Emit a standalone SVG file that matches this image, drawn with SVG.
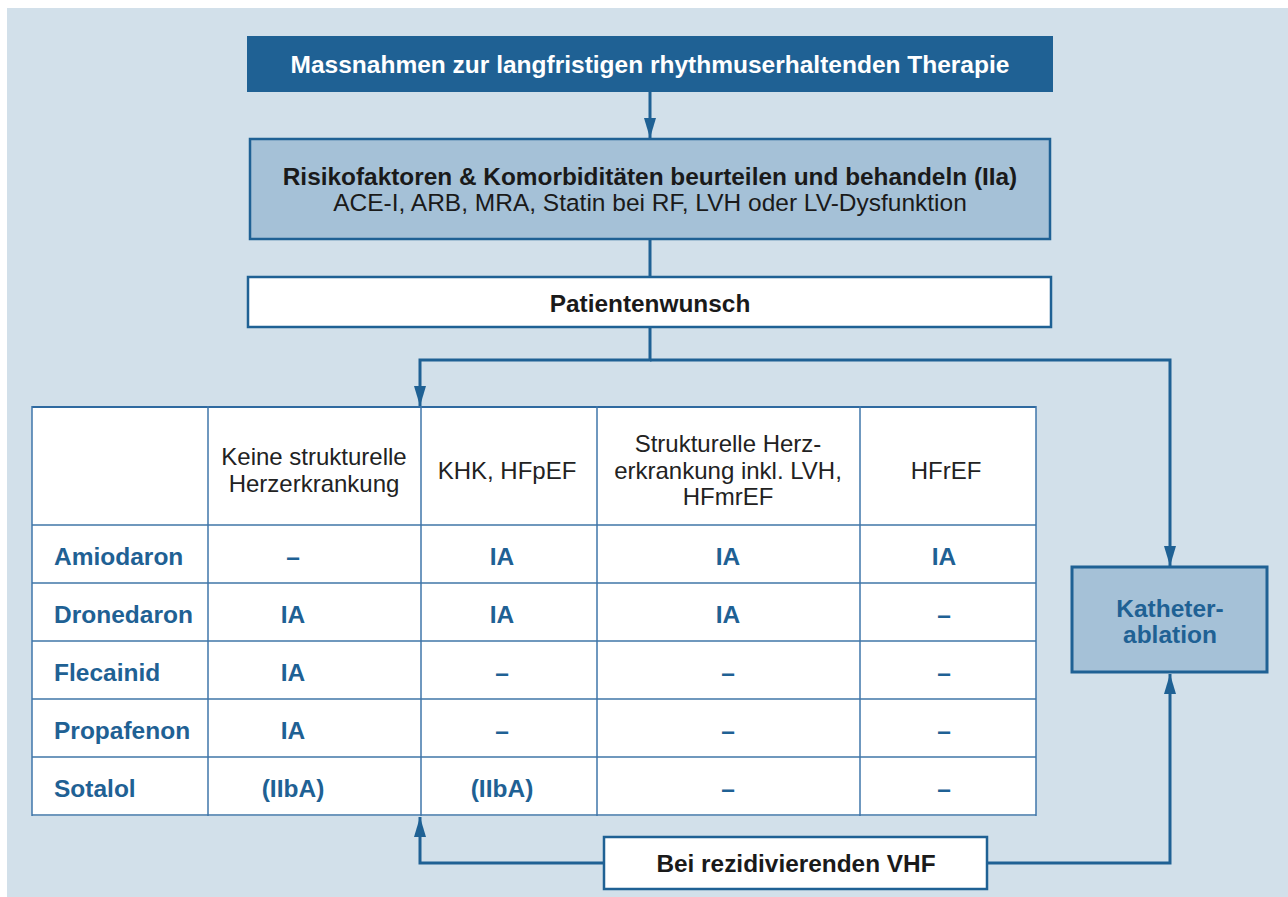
<svg xmlns="http://www.w3.org/2000/svg" width="1288" height="897" viewBox="0 0 1288 897">
<defs>
<marker id="arr" viewBox="0 0 20 12" refX="20" refY="6" markerWidth="20" markerHeight="12" markerUnits="userSpaceOnUse" orient="auto">
<path d="M0,0 L20,6 L0,12 Z" fill="#1f6194"/>
</marker>
<style>
.t{font-family:"Liberation Sans",Arial,sans-serif;}
.wb{fill:#ffffff;font-weight:bold;font-size:24.5px;}
.kb{fill:#1a1a1a;font-weight:bold;font-size:24.4px;}
.kr{fill:#1a1a1a;font-size:24.5px;}
.hd{fill:#222222;font-size:24px;}
.bl{fill:#1f6194;font-weight:bold;font-size:24.5px;}
.conn{fill:none;stroke:#1f6194;stroke-width:3;}
.row{stroke:#6f98bd;stroke-width:2;}
.col{stroke:#3f76aa;stroke-width:1.5;}
</style>
</defs>
<rect x="7" y="8" width="1281" height="889" fill="#d2e0ea"/>

<g id="connectors">
<line class="conn" x1="650" y1="92" x2="650" y2="138" marker-end="url(#arr)"/>
<line class="conn" x1="650" y1="240" x2="650" y2="276"/>
<polyline class="conn" points="650,328 650,360 420,360 420,406" marker-end="url(#arr)"/>
<polyline class="conn" points="650,360 1170,360 1170,566" marker-end="url(#arr)"/>
<polyline class="conn" points="603,863 420,863 420,817" marker-end="url(#arr)"/>
<polyline class="conn" points="988,863 1170,863 1170,674" marker-end="url(#arr)"/>
</g>

<g id="node-title">
<rect x="247" y="36" width="806" height="56" fill="#1f6194"/>
<text class="t wb" x="650" y="73" text-anchor="middle">Massnahmen zur langfristigen rhythmuserhaltenden Therapie</text>
</g>

<g id="node-risk">
<rect x="250" y="139" width="800" height="100" fill="#a5c1d7" stroke="#1f6194" stroke-width="2.5"/>
<text class="t kb" x="650" y="185" text-anchor="middle">Risikofaktoren &amp; Komorbiditäten beurteilen und behandeln (IIa)</text>
<text class="t kr" x="650" y="211" text-anchor="middle">ACE-I, ARB, MRA, Statin bei RF, LVH oder LV-Dysfunktion</text>
</g>

<g id="node-wish">
<rect x="248" y="277" width="803" height="50" fill="#ffffff" stroke="#1f6194" stroke-width="2.5"/>
<text class="t kb" x="650" y="312" text-anchor="middle">Patientenwunsch</text>
</g>

<g id="node-table">
<rect x="32" y="406" width="1004" height="410" fill="#ffffff"/>
<line class="row" x1="32" y1="525" x2="1036" y2="525"/>
<line class="row" x1="32" y1="583" x2="1036" y2="583"/>
<line class="row" x1="32" y1="641" x2="1036" y2="641"/>
<line class="row" x1="32" y1="699" x2="1036" y2="699"/>
<line class="row" x1="32" y1="757" x2="1036" y2="757"/>
<line class="row" x1="32" y1="815" x2="1036" y2="815"/>
<line x1="32" y1="407" x2="1036" y2="407" stroke="#2f6aa0" stroke-width="2"/>
<line class="col" x1="32" y1="406" x2="32" y2="816"/>
<line class="col" x1="208" y1="406" x2="208" y2="816"/>
<line class="col" x1="421" y1="406" x2="421" y2="816"/>
<line class="col" x1="597" y1="406" x2="597" y2="816"/>
<line class="col" x1="860" y1="406" x2="860" y2="816"/>
<line class="col" x1="1036" y1="406" x2="1036" y2="816"/>

<text class="t hd" x="314" y="465" text-anchor="middle">Keine strukturelle</text>
<text class="t hd" x="314" y="492" text-anchor="middle">Herzerkrankung</text>
<text class="t hd" x="507" y="479" text-anchor="middle">KHK, HFpEF</text>
<text class="t hd" x="728" y="452" text-anchor="middle">Strukturelle Herz-</text>
<text class="t hd" x="728" y="479" text-anchor="middle">erkrankung inkl. LVH,</text>
<text class="t hd" x="728" y="505" text-anchor="middle">HFmrEF</text>
<text class="t hd" x="946" y="479" text-anchor="middle">HFrEF</text>

<text class="t bl" x="54" y="565">Amiodaron</text>
<text class="t bl" x="54" y="623">Dronedaron</text>
<text class="t bl" x="54" y="681">Flecainid</text>
<text class="t bl" x="54" y="739">Propafenon</text>
<text class="t bl" x="54" y="797">Sotalol</text>

<g text-anchor="middle">
<text class="t bl" x="293" y="565">–</text>
<text class="t bl" x="502" y="565">IA</text>
<text class="t bl" x="728" y="565">IA</text>
<text class="t bl" x="944" y="565">IA</text>

<text class="t bl" x="293" y="623">IA</text>
<text class="t bl" x="502" y="623">IA</text>
<text class="t bl" x="728" y="623">IA</text>
<text class="t bl" x="944" y="623">–</text>

<text class="t bl" x="293" y="681">IA</text>
<text class="t bl" x="502" y="681">–</text>
<text class="t bl" x="728" y="681">–</text>
<text class="t bl" x="944" y="681">–</text>

<text class="t bl" x="293" y="739">IA</text>
<text class="t bl" x="502" y="739">–</text>
<text class="t bl" x="728" y="739">–</text>
<text class="t bl" x="944" y="739">–</text>

<text class="t bl" x="293" y="797">(IIbA)</text>
<text class="t bl" x="502" y="797">(IIbA)</text>
<text class="t bl" x="728" y="797">–</text>
<text class="t bl" x="944" y="797">–</text>
</g>
</g>

<g id="node-ablation">
<rect x="1072" y="567" width="195" height="105" fill="#a5c1d7" stroke="#1f6194" stroke-width="3"/>
<text class="t bl" x="1170" y="617" text-anchor="middle">Katheter-</text>
<text class="t bl" x="1170" y="643" text-anchor="middle">ablation</text>
</g>

<g id="node-recurrent">
<rect x="604" y="837" width="383" height="52" fill="#ffffff" stroke="#1f6194" stroke-width="2.5"/>
<text class="t kb" x="796" y="872" text-anchor="middle">Bei rezidivierenden VHF</text>
</g>
</svg>
